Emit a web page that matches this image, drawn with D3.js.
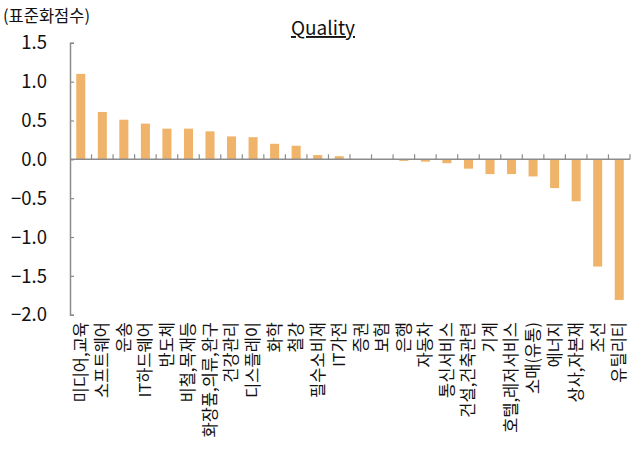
<!DOCTYPE html>
<html><head><meta charset="utf-8">
<script src="https://cdn.jsdelivr.net/npm/d3@7"></script>
<style>
body{margin:0;background:#fff;}
text{font-family:"Noto Sans CJK KR","Noto Sans",sans-serif;fill:#111;}
</style></head>
<body><svg id="c" width="641" height="456"></svg>
<script>
const categories = ["미디어,교육","소프트웨어","운송","IT하드웨어","반도체","비철,목재등","화장품,의류,완구","건강관리","디스플레이","화학","철강","필수소비재","IT가전","증권","보험","은행","자동차","통신서비스","건설,건축관련","기계","호텔,레저서비스","소매(유통)","에너지","상사,자본재","조선","유틸리티"];
const values = [1.10,0.61,0.51,0.46,0.395,0.395,0.36,0.295,0.285,0.20,0.175,0.055,0.04,0.0,0.0,-0.02,-0.03,-0.05,-0.12,-0.19,-0.19,-0.22,-0.37,-0.54,-1.38,-1.81];
const yTicks = [1.5,1.0,0.5,0.0,-0.5,-1.0,-1.5,-2.0];
const title = "Quality";
const unitLabel = "(표준화점수)";

const svg = d3.select("#c");
const x = d3.scaleBand().domain(categories).range([70,630]).paddingInner(0.58).paddingOuter(0.29);
const y = d3.scaleLinear().domain([-2,1.5]).range([314.7,42.8]);
const axisColor = "#8c8c8c";

// y axis
const ya = svg.append("g").attr("transform","translate(70,0)")
  .call(d3.axisRight(y).tickValues(yTicks).tickSize(4).tickFormat(""));
ya.select(".domain").attr("stroke",axisColor).attr("stroke-width",1.5);
ya.selectAll(".tick line").attr("stroke",axisColor).attr("stroke-width",1.2);
svg.append("g").selectAll("text").data(yTicks).join("text")
  .attr("x",47).attr("y",d=>y(d)).attr("dy","0.36em").attr("text-anchor","end")
  .attr("font-size",18.5)
  .text(d=>d3.format(".1f")(d).replace("-","−"));

// bars
svg.append("g").selectAll("rect").data(values).join("rect")
  .attr("x",(d,i)=>x(categories[i]))
  .attr("width",x.bandwidth())
  .attr("y",d=>y(Math.max(0,d)))
  .attr("height",d=>Math.abs(y(d)-y(0)))
  .attr("fill","#f0b36a");

// x axis (zero line) with boundary ticks
const step = x.step();
const bounds = d3.range(categories.length+1).map(i=>70+i*step);
svg.append("line").attr("x1",70).attr("x2",630).attr("y1",y(0)).attr("y2",y(0))
  .attr("stroke",axisColor).attr("stroke-width",1.5);
svg.append("g").selectAll("line").data(bounds.slice(1)).join("line")
  .attr("x1",d=>d).attr("x2",d=>d).attr("y1",y(0)).attr("y2",y(0)-5)
  .attr("stroke",axisColor).attr("stroke-width",1.2);

// x labels
svg.append("g").selectAll("text").data(categories).join("text")
  .attr("transform",d=>`translate(${x(d)+x.bandwidth()/2},322) rotate(-90)`)
  .attr("text-anchor","end").attr("dy","0.36em")
  .attr("font-size",16.5)
  .text(d=>d);

// title
svg.append("text").attr("x",323).attr("y",35).attr("text-anchor","middle")
  .attr("font-size",19).attr("text-decoration","underline").text(title);
svg.append("text").attr("x",3).attr("y",22).attr("font-size",16.5).text(unitLabel);
</script></body></html>
